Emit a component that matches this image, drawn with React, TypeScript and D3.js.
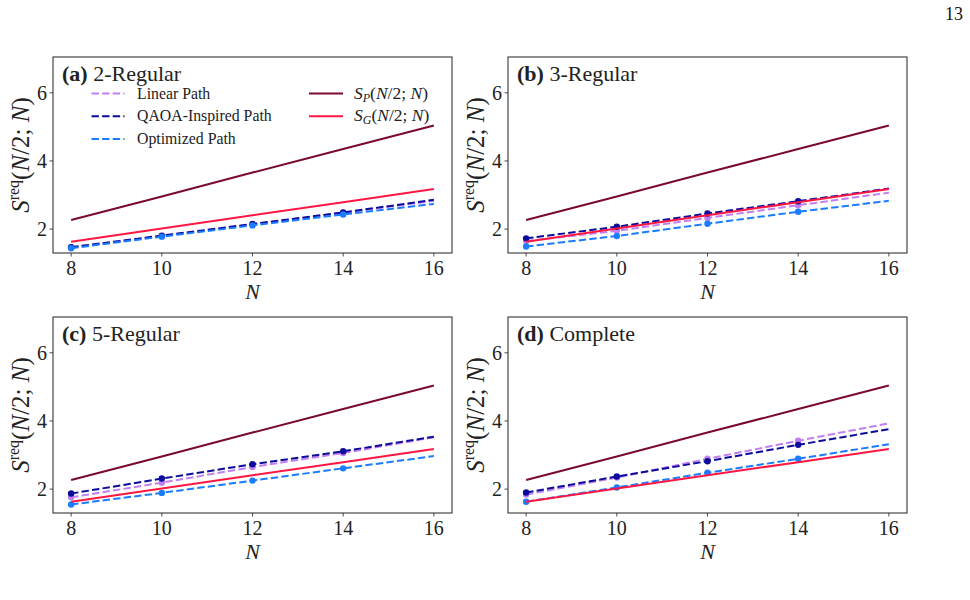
import React from "react";
import * as d3 from "d3";

// Problem sizes along the horizontal axis
const N_VALUES = [8, 10, 12, 14, 16];
// Sizes at which the paths were actually evaluated (marked with dots)
const MEASURED_N = [8, 10, 12, 14];

// Reference bounds, shared by every graph family
const S_P = [2.27, 2.96, 3.66, 4.35, 5.04];
const S_G = [1.63, 2.02, 2.41, 2.79, 3.18];

// (a) 2-Regular
const LINEAR_A = [1.46, 1.8, 2.14, 2.48, 2.83];
const QAOA_A = [1.47, 1.81, 2.15, 2.49, 2.86];
const OPT_A = [1.44, 1.78, 2.11, 2.43, 2.74];

// (b) 3-Regular
const LINEAR_B = [1.65, 1.95, 2.33, 2.7, 3.07];
const QAOA_B = [1.73, 2.07, 2.46, 2.82, 3.19];
const OPT_B = [1.49, 1.8, 2.16, 2.51, 2.83];

// (c) 5-Regular
const LINEAR_C = [1.76, 2.19, 2.65, 3.06, 3.52];
const QAOA_C = [1.87, 2.31, 2.73, 3.11, 3.54];
const OPT_C = [1.55, 1.89, 2.25, 2.61, 2.97];

// (d) Complete
const LINEAR_D = [1.84, 2.34, 2.89, 3.42, 3.93];
const QAOA_D = [1.9, 2.37, 2.82, 3.3, 3.76];
const OPT_D = [1.63, 2.05, 2.48, 2.89, 3.32];

const PANEL_TAGS = ["(a)", "(b)", "(c)", "(d)"];
const PANEL_NAMES = ["2-Regular", "3-Regular", "5-Regular", "Complete"];
const X_TICKS = [8, 10, 12, 14, 16];
const Y_TICKS = [2, 4, 6];

const COLORS = {
  linear: "#c27ff0",
  qaoa: "#0c0c9c",
  opt: "#1a7dff",
  sp: "#7a0a2c",
  sg: "#ff1744",
};

const FONT = "'Liberation Serif', 'Times New Roman', serif";
const DASH = "7.4,3.2";

type PanelSpec = {
  left: number;
  top: number;
  linear: number[];
  qaoa: number[];
  opt: number[];
};

const PANELS: PanelSpec[] = [
  { left: 53, top: 57, linear: LINEAR_A, qaoa: QAOA_A, opt: OPT_A },
  { left: 508, top: 57, linear: LINEAR_B, qaoa: QAOA_B, opt: OPT_B },
  { left: 53, top: 317, linear: LINEAR_C, qaoa: QAOA_C, opt: OPT_C },
  { left: 508, top: 317, linear: LINEAR_D, qaoa: QAOA_D, opt: OPT_D },
];

const PW = 399;
const PH = 196;

function Panel({ spec, idx }: { spec: PanelSpec; idx: number }) {
  const { left, top } = spec;
  const x = d3.scaleLinear().domain([7.6, 16.4]).range([left, left + PW]);
  const y = d3.scaleLinear().domain([1.3, 7.05]).range([top + PH, top]);
  const line = d3
    .line<number>()
    .x((_, i) => x(N_VALUES[i]))
    .y((v) => y(v));

  const dashed = [
    { key: "linear", vals: spec.linear, color: COLORS.linear },
    { key: "qaoa", vals: spec.qaoa, color: COLORS.qaoa },
    { key: "opt", vals: spec.opt, color: COLORS.opt },
  ];

  const clipId = `clip-${idx}`;
  const midY = top + PH / 2;

  return (
    <g>
      <defs>
        <clipPath id={clipId}>
          <rect x={left} y={top} width={PW} height={PH} />
        </clipPath>
      </defs>
      <g clipPath={`url(#${clipId})`}>
        {dashed.map((s) => (
          <g key={s.key}>
            <path
              d={line(s.vals) || ""}
              fill="none"
              stroke={s.color}
              strokeWidth={2}
              strokeDasharray={DASH}
            />
            {MEASURED_N.map((n) => {
              const i = N_VALUES.indexOf(n);
              return (
                <circle key={n} cx={x(n)} cy={y(s.vals[i])} r={3.2} fill={s.color} />
              );
            })}
          </g>
        ))}
        <path d={line(S_P) || ""} fill="none" stroke={COLORS.sp} strokeWidth={2} />
        <path d={line(S_G) || ""} fill="none" stroke={COLORS.sg} strokeWidth={2} />
      </g>

      <rect x={left} y={top} width={PW} height={PH} fill="none" stroke="#222" strokeWidth={1} />

      {/* x axis */}
      {X_TICKS.map((t) => (
        <g key={`x${t}`}>
          <line x1={x(t)} x2={x(t)} y1={top + PH} y2={top + PH + 3.5} stroke="#222" strokeWidth={0.8} />
          <text
            x={x(t)}
            y={top + PH + 22}
            textAnchor="middle"
            fontFamily={FONT}
            fontSize={20}
            fill="#222"
          >
            {t}
          </text>
        </g>
      ))}
      <text
        x={left + PW / 2}
        y={top + PH + 46}
        textAnchor="middle"
        fontFamily={FONT}
        fontStyle="italic"
        fontSize={22}
        fill="#222"
      >
        N
      </text>

      {/* y axis */}
      {Y_TICKS.map((t) => (
        <g key={`y${t}`}>
          <line x1={left - 3.5} x2={left} y1={y(t)} y2={y(t)} stroke="#222" strokeWidth={0.8} />
          <text
            x={left - 6}
            y={y(t) + 7}
            textAnchor="end"
            fontFamily={FONT}
            fontSize={20}
            fill="#222"
          >
            {t}
          </text>
        </g>
      ))}
      <text
        transform={`translate(${left - 24},${midY}) rotate(-90)`}
        textAnchor="middle"
        fontFamily={FONT}
        fontSize={25}
        fill="#222"
      >
        <tspan fontStyle="italic">S</tspan>
        <tspan fontSize={16} dy={-10}>
          req
        </tspan>
        <tspan dy={10}>(</tspan>
        <tspan fontStyle="italic">N</tspan>
        <tspan>/2; </tspan>
        <tspan fontStyle="italic">N</tspan>
        <tspan>)</tspan>
      </text>

      {/* panel title */}
      <text x={left + 9} y={top + 23.5} fontFamily={FONT} fontSize={22} fill="#222">
        <tspan fontWeight="bold">{PANEL_TAGS[idx]}</tspan>
        <tspan> {PANEL_NAMES[idx]}</tspan>
      </text>
    </g>
  );
}

const LEGEND_DASHED = [
  { label: "Linear Path", color: COLORS.linear },
  { label: "QAOA-Inspired Path", color: COLORS.qaoa },
  { label: "Optimized Path", color: COLORS.opt },
];
const LEGEND_SOLID = [
  { sub: "P", color: COLORS.sp },
  { sub: "G", color: COLORS.sg },
];

function Legend() {
  const rowY = [93.5, 116.3, 139];
  return (
    <g fontFamily={FONT} fill="#222">
      {LEGEND_DASHED.map((e, i) => (
        <g key={e.label}>
          <line
            x1={91.5}
            x2={124.5}
            y1={rowY[i]}
            y2={rowY[i]}
            stroke={e.color}
            strokeWidth={2}
            strokeDasharray={DASH}
          />
          <text x={137} y={rowY[i] + 5} fontSize={15.8}>
            {e.label}
          </text>
        </g>
      ))}
      {LEGEND_SOLID.map((e, i) => (
        <g key={e.sub}>
          <line x1={309} x2={343} y1={rowY[i]} y2={rowY[i]} stroke={e.color} strokeWidth={2} />
          <text x={354} y={rowY[i] + 5} fontSize={17.5}>
            <tspan fontStyle="italic">S</tspan>
            <tspan fontStyle="italic" fontSize={12} dy={3}>
              {e.sub}
            </tspan>
            <tspan dy={-3}>(</tspan>
            <tspan fontStyle="italic">N</tspan>
            <tspan>/2; </tspan>
            <tspan fontStyle="italic">N</tspan>
            <tspan>)</tspan>
          </text>
        </g>
      ))}
    </g>
  );
}

export default function App() {
  return (
    <svg
      width={970}
      height={600}
      style={{ position: "absolute", left: 0, top: 0, background: "#fff" }}
    >
      <rect width={970} height={600} fill="#fff" />
      <text x={963} y={20} textAnchor="end" fontFamily={FONT} fontSize={18} fill="#111">
        13
      </text>
      {PANELS.map((p, i) => (
        <Panel key={i} spec={p} idx={i} />
      ))}
      <Legend />
    </svg>
  );
}
